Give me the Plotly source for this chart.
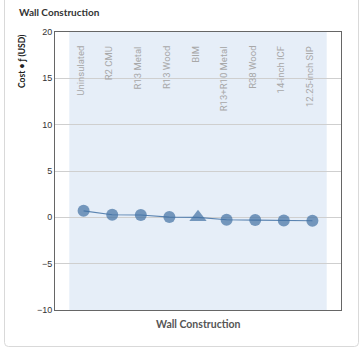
import plotly.graph_objects as go

categories = ["Uninsulated", "R2 CMU", "R13 Metal", "R13 Wood", "BIM",
              "R13+R10 Metal", "R38 Wood", "14-inch ICF", "12.25-inch SIP"]
values = [0.7, 0.28, 0.25, 0.03, 0.0, -0.26, -0.3, -0.33, -0.37]
symbols = ["circle", "circle", "circle", "circle", "triangle-up",
           "circle", "circle", "circle", "circle"]
y_ticks = [-10, -5, 0, 5, 10, 15, 20]

W, H = 361, 349
L, R, T, B = 55, 341, 32, 310
xs = list(range(len(categories)))

def px(x):
    return (x - L) / (R - L)

def py(y):
    return (B - y) / (B - T)

fig = go.Figure()
fig.add_trace(go.Scatter(
    x=xs, y=values, mode="lines+markers",
    line=dict(color="#5b84b1", width=1.2),
    marker=dict(color="#4170a3", size=[12 if s == "circle" else 15 for s in symbols],
                symbol=symbols, line=dict(width=0)),
    hoverinfo="skip", showlegend=False, cliponaxis=False,
))

# shaded band
fig.add_shape(type="rect", xref="x", yref="y", x0=-0.5, x1=len(categories) - 0.5,
              y0=-10, y1=20, fillcolor="#e6eef8", line=dict(width=0), layer="below")

# card border (rounded corners)
x0, x1, y0, y1, r = 4.5, 358.5, -10, 346.5, 4
path = (f"M {px(x0)},{py(y0)} L {px(x0)},{py(y1 - r)} "
        f"Q {px(x0)},{py(y1)} {px(x0 + r)},{py(y1)} "
        f"L {px(x1 - r)},{py(y1)} Q {px(x1)},{py(y1)} {px(x1)},{py(y1 - r)} "
        f"L {px(x1)},{py(y0)}")
fig.add_shape(type="path", xref="paper", yref="paper", path=path,
              line=dict(color="#d9d9d9", width=1), layer="below")

annotations = []
for i, c in enumerate(categories):
    annotations.append(dict(x=i - 0.1, y=py(44), xref="x", yref="paper", text=c,
                            textangle=-90, showarrow=False, xanchor="center", yanchor="top",
                            font=dict(family="Roboto, sans-serif", size=9.5, color="#a8a8a8")))

cond = "Lato, Roboto, sans-serif"
annotations.append(dict(x=px(17), y=py(12), xref="paper", yref="paper",
                        text="<b>Wall Construction</b>", showarrow=False,
                        xanchor="left", yanchor="middle",
                        font=dict(family=cond, size=10, color="#333333")))
annotations.append(dict(x=px(22), y=py(32), xref="paper", yref="paper",
                        text="<b>Cost • ƒ (USD)</b>", showarrow=False, textangle=-90,
                        xanchor="center", yanchor="top",
                        font=dict(family=cond, size=8.5, color="#222222")))
annotations.append(dict(x=0.5, y=py(324), xref="paper", yref="paper",
                        text="<b>Wall Construction</b>", showarrow=False,
                        xanchor="center", yanchor="middle",
                        font=dict(family=cond, size=10.5, color="#555555")))

fig.update_layout(
    width=W, height=H,
    margin=dict(l=L, r=W - R, t=T, b=H - B, pad=0),
    paper_bgcolor="white", plot_bgcolor="white",
    annotations=annotations,
    xaxis=dict(range=[-1, 9], showgrid=False, showticklabels=False, zeroline=False,
               showline=True, linecolor="#666666", linewidth=1, mirror=True, ticks=""),
    yaxis=dict(range=[-10, 20], tickvals=y_ticks, showgrid=True, gridcolor="#cfcfcf",
               gridwidth=1, zeroline=False, showline=True, linecolor="#666666",
               linewidth=1, mirror=True, ticks="", ticklen=0,
               tickfont=dict(family="Liberation Sans, Arial, sans-serif", size=9, color="#333333")),
)

fig.write_html("out.html", config={"displayModeBar": False},
               post_script="document.body.style.margin='0';document.body.style.overflow='hidden';")
